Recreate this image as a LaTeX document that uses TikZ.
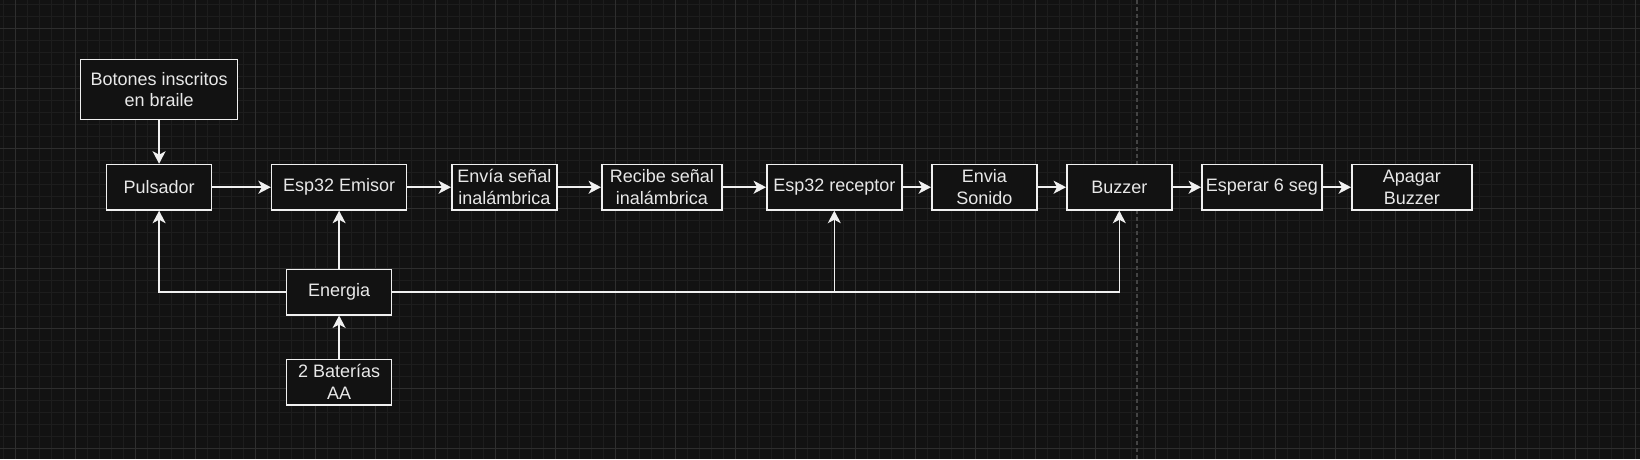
\documentclass[tikz,border=0pt]{standalone}
\usepackage{fontspec}
\setmainfont{Liberation Sans}
\usetikzlibrary{arrows.meta}
\definecolor{fondo}{HTML}{121212}
\definecolor{trazo}{HTML}{F0F0F0}
\definecolor{letra}{HTML}{E8E8E8}
\definecolor{rejillamenor}{HTML}{1D1D1D}
\definecolor{rejillamayor}{HTML}{2E2E2E}
\definecolor{corte}{HTML}{444444}
\begin{document}
\begin{tikzpicture}[x=1pt,y=-1pt,
    caja/.style={draw=trazo, line width=1.5pt, fill=fondo, text=letra,
      font=\fontsize{18}{21.6}\selectfont, align=center, inner sep=0pt,
      minimum width=105pt, minimum height=45.5pt},
    flecha/.style={draw=trazo, line width=1.5pt,
      -{Stealth[length=12.5pt,width=13pt,inset=3.5pt]}},
    menor/.style={draw=rejillamenor, line width=0.8pt},
    mayor/.style={draw=rejillamayor, line width=1pt}]
    \useasboundingbox (0,0) rectangle (1640,459);
    \fill[fondo] (0,0) rectangle (1640,459);
    % rejilla de fondo
    \foreach \gx in {3.4,15.4,...,1640} \draw[menor] (\gx,0) -- (\gx,459);
    \foreach \gy in {4.3,16.3,...,459} \draw[menor] (0,\gy) -- (1640,\gy);
    \foreach \gx in {15.4,75.4,...,1640} \draw[mayor] (\gx,0) -- (\gx,459);
    \foreach \gy in {28.3,88.3,...,459} \draw[mayor] (0,\gy) -- (1640,\gy);
    \draw[corte, line width=1.2pt, dash pattern=on 4pt off 3pt] (1137,0) -- (1137,459);

    \node[caja, minimum width=157pt, minimum height=60pt] (botones) at (159.1,89.7) {Botones inscritos\\en braile};
    \node[caja] (pulsador) at (159.1,187.2) {Pulsador};
    \node[caja, minimum width=135pt] (emisor) at (339.1,187.2) {Esp32 Emisor};
    \node[caja] (envia) at (504.3,187.2) {Envía señal\\inalámbrica};
    \node[caja, minimum width=120pt] (recibe) at (661.8,187.2) {Recibe señal\\inalámbrica};
    \node[caja, minimum width=135pt] (receptor) at (834.3,187.2) {Esp32 receptor};
    \node[caja] (sonido) at (984.3,187.2) {Envia\\Sonido};
    \node[caja] (buzzer) at (1119.3,187.2) {Buzzer};
    \node[caja, minimum width=120pt] (esperar) at (1261.8,187.2) {Esperar 6 seg};
    \node[caja, minimum width=120pt] (apagar) at (1411.8,187.2) {Apagar\\Buzzer};
    \node[caja] (energia) at (339.1,292) {Energia};
    \node[caja] (baterias) at (339.1,382) {2 Baterías\\AA};

    \draw[flecha] (botones) -- (pulsador);
    \draw[flecha] (pulsador) -- (emisor);
    \draw[flecha] (emisor) -- (envia);
    \draw[flecha] (envia) -- (recibe);
    \draw[flecha] (recibe) -- (receptor);
    \draw[flecha] (receptor) -- (sonido);
    \draw[flecha] (sonido) -- (buzzer);
    \draw[flecha] (buzzer) -- (esperar);
    \draw[flecha] (esperar) -- (apagar);
    \draw[flecha] (energia) -- (emisor);
    \draw[flecha] (baterias) -- (energia);
    \draw[flecha] (energia.west) -| (pulsador.south);
    \draw[flecha] (energia.east) -| (receptor.south);
    \draw[flecha] (energia.east) -| (buzzer.south);
\end{tikzpicture}
\end{document}
